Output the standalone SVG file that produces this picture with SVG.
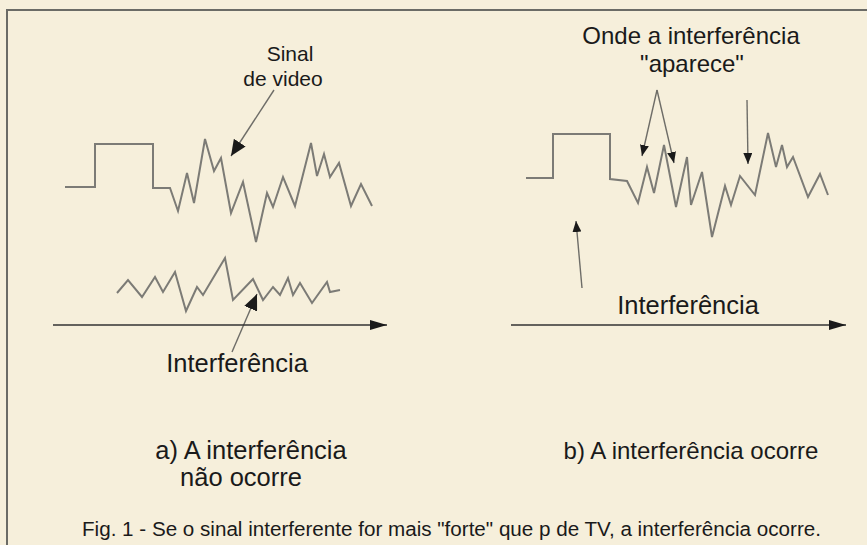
<svg xmlns="http://www.w3.org/2000/svg" width="867" height="545" viewBox="0 0 867 545">
<style>
  .bg{fill:#f6efdb}
  .frame{fill:none;stroke:#6b6b66;stroke-width:2}
  .wave{fill:none;stroke:#7c7b76;stroke-width:2;stroke-linejoin:miter}
  .lead{fill:none;stroke:#6e6d68;stroke-width:1.4}
  .axis{fill:none;stroke:#333;stroke-width:1.5}
  text{font-family:"Liberation Sans",Arial,sans-serif;fill:#1a1a1a;text-anchor:middle}
  .small{font-size:21px}
  .lab{font-size:25.5px}
  .labb{font-size:24px}
  .cap{font-size:20px;text-anchor:start}
</style>
<defs>
  <marker id="ahL" viewBox="0 0 16 14" refX="16" refY="7" markerWidth="16" markerHeight="14" markerUnits="userSpaceOnUse" orient="auto">
    <path d="M0,0 L16,7 L0,14 z" fill="#1a1a1a"/>
  </marker>
  <marker id="ahS" viewBox="0 0 11 9" refX="11" refY="4.5" markerWidth="11" markerHeight="9" markerUnits="userSpaceOnUse" orient="auto">
    <path d="M0,0 L11,4.5 L0,9 z" fill="#1a1a1a"/>
  </marker>
  <marker id="ahX" viewBox="0 0 17 10" refX="17" refY="5" markerWidth="17" markerHeight="10" markerUnits="userSpaceOnUse" orient="auto">
    <path d="M0,0 L17,5 L0,10 z" fill="#1a1a1a"/>
  </marker>
</defs>
<rect class="bg" x="0" y="0" width="867" height="545"/>
<path class="frame" d="M7,545 L7,10 L867,10"/>

<g id="panel-a">
  <path id="video-a" class="wave" d="M65,187 L95,187 L95,144 L153,144 L153,188 L170,188 L178,211 L187,173 L194,203 L205,139 L214,171 L221,158 L231,213 L243,182 L256,242 L267,193 L273,207 L283,177 L295,206 L311,143 L317,176 L324,154 L330,177 L339,163 L351,206 L361,184 L372,206"/>
  <path id="interf-a" class="wave" d="M117,293 L128,280 L142,297 L155,277 L163,292 L175,272 L186,311 L197,287 L203,295 L225,258 L233,300 L253,279 L263,300 L273,287 L280,295 L288,278 L293,295 L300,283 L312,303 L327,282 L330,292 L340,290"/>
  <text class="small" x="290" y="61">Sinal</text>
  <text class="small" x="283" y="86">de video</text>
  <text class="lab" x="237" y="372">Interferência</text>
  <text class="lab" x="251" y="459">a) A interferência</text>
  <text class="lab" x="241" y="486">não ocorre</text>
</g>

<g id="panel-b">
  <path id="video-b" class="wave" d="M526,178 L553,178 L553,134 L610,134 L610,179 L627,181 L638,203 L647,167 L654,193 L664,145 L676,207 L687,157 L691,205 L702,172 L712,237 L725,186 L731,205 L740,176 L755,195 L768,133 L776,167 L782,145 L787,167 L793,157 L808,197 L820,174 L828,195"/>
  <text class="labb" x="691" y="44">Onde a interferência</text>
  <text class="labb" x="692" y="72">"aparece"</text>
  <text class="lab" x="688" y="314">Interferência</text>
  <text class="labb" x="691" y="459">b) A interferência ocorre</text>
</g>

<g id="connectors">
  <line class="lead" x1="274" y1="90" x2="231" y2="156" marker-end="url(#ahL)"/>
  <line class="lead" x1="232" y1="352" x2="257" y2="294" marker-end="url(#ahL)"/>
  <line class="axis" x1="53" y1="325" x2="387" y2="325" marker-end="url(#ahX)"/>
  <line class="lead" x1="657" y1="90" x2="642" y2="156" marker-end="url(#ahS)"/>
  <line class="lead" x1="657" y1="90" x2="674" y2="163" marker-end="url(#ahS)"/>
  <line class="lead" x1="747" y1="100" x2="748" y2="164" marker-end="url(#ahS)"/>
  <line class="lead" x1="582" y1="288" x2="576" y2="221" marker-end="url(#ahS)"/>
  <line class="axis" x1="511" y1="325" x2="846" y2="325" marker-end="url(#ahX)"/>
</g>

<g id="caption">
  <text class="cap" x="82" y="536" textLength="739" lengthAdjust="spacingAndGlyphs">Fig. 1 - Se o sinal interferente for mais "forte" que p de TV, a interferência ocorre.</text>
</g>
</svg>
